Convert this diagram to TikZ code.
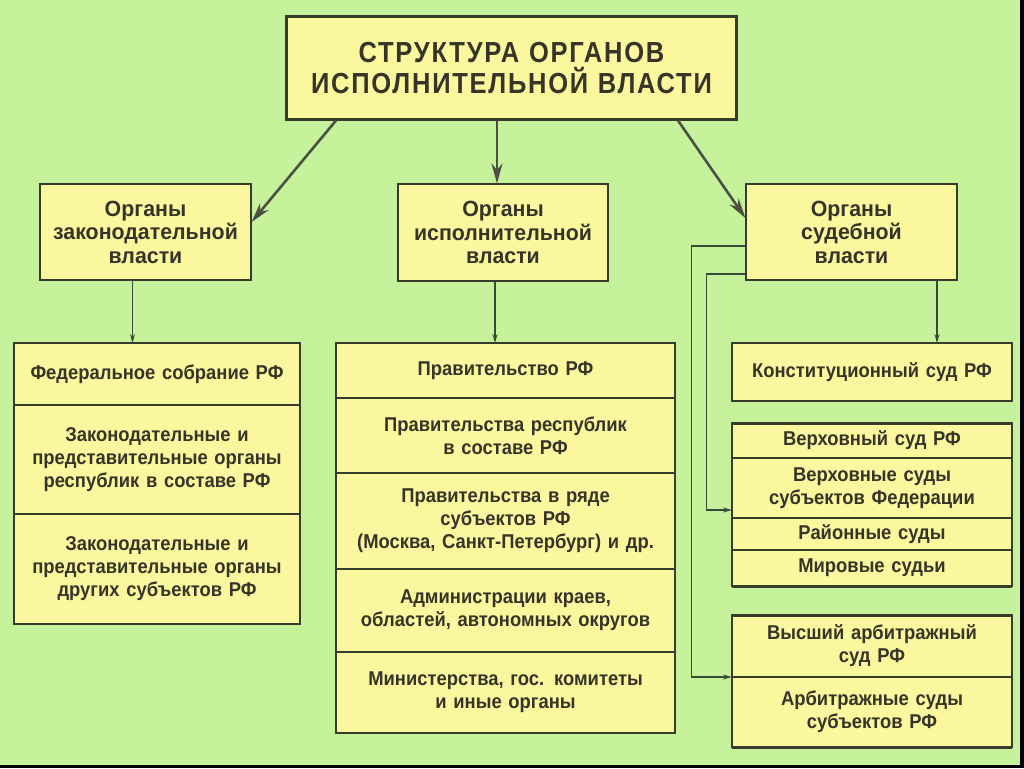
\documentclass[tikz,border=0pt]{standalone}
\usepackage{fontspec}
\setmainfont{Liberation Sans}
\usetikzlibrary{positioning,arrows.meta}
\definecolor{bg}{RGB}{198,242,155}
\definecolor{boxfill}{RGB}{250,247,158}
\definecolor{boxline}{RGB}{55,60,45}
\definecolor{ink}{RGB}{55,52,40}
\definecolor{wire}{RGB}{55,75,55}

\begin{document}
\begin{tikzpicture}[
  x=1pt, y=-1pt,
  box/.style={
    draw=boxline, fill=boxfill, line width=1.2pt,
    text=ink, align=center,
    inner xsep=2pt, % horizontal padding, text width does the rest
    inner ysep=1pt,
    font=\fontsize{22}{23.5}\selectfont\bfseries\addfontfeature{FakeStretch=0.97}
  },
  head/.style={box, line width=3pt,
    font=\fontsize{29}{31}\selectfont\bfseries\addfontfeature{FakeStretch=0.88,LetterSpace=6}},
  row/.style={box, outer sep=0pt,
    font=\fontsize{20}{23}\selectfont\bfseries\addfontfeature{FakeStretch=0.92}},
  link/.style={draw=wire, line width=1.2pt, -{Stealth[length=9pt,width=5pt]}},
  bigarrow/.style={draw=boxline!90, line width=2.6pt, -{Stealth[length=20pt,width=11pt]}}
]
% --- Background ---
\fill[black] (0,0) rectangle (1024,768);
\fill[bg] (0,0) rectangle (1020,765);

% --- Title and branches ---
\node[head, text width=446pt, minimum height=102pt] (title) at (511.5,68)
  {СТРУКТУРА ОРГАНОВ\\ИСПОЛНИТЕЛЬНОЙ ВЛАСТИ};
\node[box, text width=207pt, minimum height=96pt] (leg) at (145.5,232)
  {Органы\\законодательной\\власти};
\node[box, text width=206pt, minimum height=97pt] (exe) at (503,232.5)
  {Органы\\исполнительной\\власти};
\node[box, text width=207pt, minimum height=96pt] (jud) at (851.5,232)
  {Органы\\судебной\\власти};

% --- Legislative ---
\foreach \t/\h [count=\i] in {{Федеральное собрание РФ}/62,
  {Законодательные и\\представительные органы\\республик в составе РФ}/109,
  {Законодательные и\\представительные органы\\других субъектов РФ}/110} {
  \ifnum\i=1
    \node[row, text width=282pt, minimum height=\h pt, anchor=north] (l\i) at (157,343) {\t};
  \else
    \node[row, text width=282pt, minimum height=\h pt, below=0pt of l\the\numexpr\i-1\relax] (l\i) {\t};
  \fi
}

% --- Executive ---
\foreach \t/\h [count=\i] in {{Правительство РФ}/55,
  {Правительства республик\\в составе РФ}/75,
  {Правительства в ряде\\субъектов РФ\\(Москва, Санкт-Петербург) и др.}/96,
  {Администрации краев,\\областей, автономных округов}/83,
  {Министерства, гос. комитеты\\и иные органы}/81} {
  \ifnum\i=1
    \node[row, text width=335pt, minimum height=\h pt, anchor=north] (m\i) at (505.5,343) {\t};
  \else
    \node[row, text width=335pt, minimum height=\h pt, below=0pt of m\the\numexpr\i-1\relax] (m\i) {\t};
  \fi
}

% --- Judicial ---
\node[row, text width=276pt, minimum height=58pt] (konst) at (872,372) {Конституционный суд РФ};

\foreach \t/\h [count=\i] in {{Верховный суд РФ}/35,
  {Верховные суды\\субъектов Федерации}/60,
  {Районные суды}/32, {Мировые судьи}/36} {
  \ifnum\i=1
    \node[row, text width=276pt, minimum height=\h pt, anchor=north] (c\i) at (872,423) {\t};
  \else
    \node[row, text width=276pt, minimum height=\h pt, below=0pt of c\the\numexpr\i-1\relax] (c\i) {\t};
  \fi
}

\foreach \t/\h [count=\i] in {{Высший арбитражный\\суд РФ}/62,
  {Арбитражные суды\\субъектов РФ}/70} {
  \ifnum\i=1
    \node[row, text width=276pt, minimum height=\h pt, anchor=north] (a\i) at (872,615) {\t};
  \else
    \node[row, text width=276pt, minimum height=\h pt, below=0pt of a\the\numexpr\i-1\relax] (a\i) {\t};
  \fi
}

% heavy top and bottom edges of the court stacks
\draw[boxline, line width=3pt] (c1.north west) -- (c1.north east) (c4.south west) -- (c4.south east);
\draw[boxline, line width=3pt] (a1.north west) -- (a1.north east) (a2.south west) -- (a2.south east);

% --- Arrows ---
\draw[bigarrow] ([xshift=51pt]title.south west) -- ([yshift=10pt]leg.east);
\draw[bigarrow] ([xshift=-14.5pt]title.south) -- ([xshift=-6pt]exe.north);
\draw[bigarrow] ([xshift=-60pt]title.south east) -- ([yshift=14pt]jud.west);

\draw[link] ([xshift=-13pt]leg.south) -- ([xshift=-24.5pt]l1.north);
\draw[link] ([xshift=-8pt]exe.south) -- ([xshift=-10.5pt]m1.north);
\draw[link] ([xshift=85.5pt]jud.south) -- ([xshift=65pt]konst.north);

\draw[link] ([yshift=-14pt]jud.west) -- ++(-54,0) |- (a1.south west);
\draw[link] ([yshift=-42pt]jud.west) -- ++(-39,0) |- ([yshift=-22pt]c2.west);
\end{tikzpicture}
\end{document}
